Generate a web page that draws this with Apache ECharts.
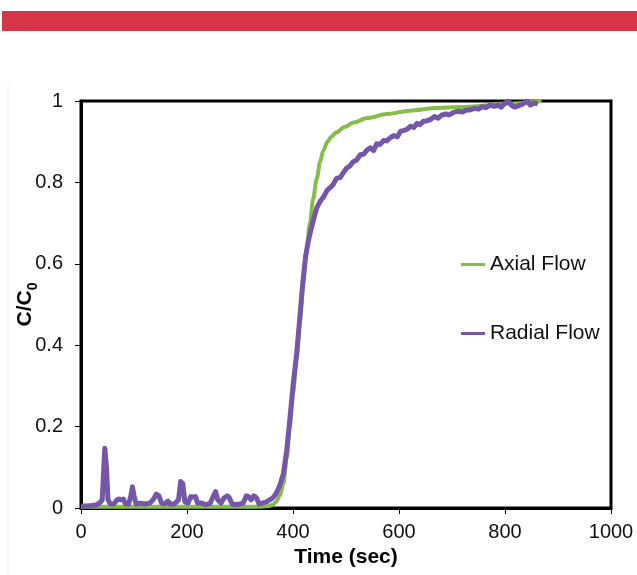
<!DOCTYPE html>
<html>
<head>
<meta charset="utf-8">
<script src="https://cdn.jsdelivr.net/npm/echarts@6/dist/echarts.min.js"></script>
<style>
  html, body { margin: 0; padding: 0; background: #fff; }
  #chart { width: 637px; height: 575px; }
</style>
</head>
<body>
<div id="chart"></div>
<script>
// axial flow (green) - time in sec, C/C0
var axialTime = [0, 100, 200, 300, 340, 355, 362, 368, 375, 382, 388, 394, 400, 407, 413, 419, 425, 432, 438, 445, 451, 457, 465, 472, 482, 497, 514, 540, 577, 620, 671, 734, 800, 869];
var axialValue = [0.003, 0.003, 0.003, 0.003, 0.003, 0.005, 0.008, 0.015, 0.03, 0.06, 0.12, 0.2, 0.28, 0.37, 0.46, 0.55, 0.63, 0.70, 0.76, 0.81, 0.85, 0.878, 0.9, 0.912, 0.923, 0.936, 0.947, 0.958, 0.968, 0.976, 0.983, 0.986, 0.993, 1.0];

// radial flow (purple)
var radialTime = [0, 10, 20, 30, 37, 40, 43, 45, 48, 51, 55, 62, 68, 72, 76, 80, 84, 90, 94, 97, 100, 104, 112, 120, 130, 136, 142, 147, 152, 158, 164, 168, 176, 184, 188, 192, 196, 202, 207, 211, 216, 220, 228, 236, 244, 250, 254, 258, 264, 270, 276, 280, 285, 292, 300, 306, 312, 316, 321, 326, 331, 336, 342, 350, 356, 362, 368, 375, 382, 388, 394, 400, 407, 413, 419, 424, 429, 435, 440, 445, 452, 458, 464, 470, 476, 482, 489, 495, 501, 507, 513, 520, 527, 533, 540, 546, 552, 558, 564, 571, 577, 584, 590, 597, 603, 608, 615, 622, 628, 634, 640, 646, 652, 660, 667, 674, 680, 688, 695, 703, 712, 720, 727, 734, 742, 750, 757, 764, 772, 780, 787, 793, 800, 806, 812, 818, 825, 833, 841, 848, 855, 862];
var radialValue = [0.005, 0.005, 0.006, 0.008, 0.015, 0.02, 0.10, 0.147, 0.10, 0.02, 0.01, 0.01, 0.02, 0.022, 0.02, 0.022, 0.01, 0.01, 0.03, 0.052, 0.03, 0.01, 0.012, 0.01, 0.012, 0.02, 0.034, 0.03, 0.012, 0.01, 0.017, 0.01, 0.01, 0.02, 0.065, 0.06, 0.015, 0.012, 0.028, 0.027, 0.028, 0.012, 0.012, 0.008, 0.012, 0.03, 0.04, 0.02, 0.012, 0.025, 0.03, 0.025, 0.01, 0.008, 0.01, 0.012, 0.03, 0.028, 0.02, 0.03, 0.025, 0.01, 0.012, 0.015, 0.02, 0.025, 0.035, 0.055, 0.085, 0.14, 0.217, 0.30, 0.38, 0.47, 0.56, 0.62, 0.656, 0.69, 0.715, 0.738, 0.755, 0.765, 0.78, 0.787, 0.795, 0.81, 0.812, 0.824, 0.835, 0.84, 0.85, 0.855, 0.868, 0.869, 0.88, 0.885, 0.878, 0.895, 0.893, 0.903, 0.902, 0.91, 0.915, 0.912, 0.926, 0.927, 0.93, 0.938, 0.935, 0.945, 0.942, 0.95, 0.951, 0.955, 0.962, 0.958, 0.965, 0.968, 0.966, 0.972, 0.975, 0.973, 0.978, 0.978, 0.982, 0.98, 0.986, 0.984, 0.99, 0.987, 0.99, 0.985, 0.995, 1.0, 0.99, 0.985, 0.988, 0.992, 1.0, 0.99, 0.995, 0.993];

var seriesNames = ['Axial Flow', 'Radial Flow'];

function zip(xs, ys) {
  return xs.map(function (x, i) { return [x, ys[i]]; });
}

var font = 'Arial, "Liberation Sans", sans-serif';
var chart = echarts.init(document.getElementById('chart'));
chart.setOption({
  animation: false,
  textStyle: { fontFamily: font },
  graphic: [
    { type: 'rect', shape: { x: 2, y: 11, width: 635, height: 20 }, style: { fill: '#D63448' } },
    { type: 'line', shape: { x1: 8, y1: 85, x2: 8, y2: 575 }, style: { stroke: '#ececec', lineWidth: 1 } }
  ],
  grid: {
    left: 81, right: 26, top: 101, bottom: 67,
    outerBoundsMode: 'none',
    containLabel: false,
    show: true, borderColor: '#000', borderWidth: 3
  },
  legend: {
    orient: 'vertical',
    left: 456,
    top: 249,
    itemGap: 48,
    icon: 'rect',
    itemWidth: 24,
    itemHeight: 3,
    textStyle: { fontSize: 21, color: '#111', fontFamily: font },
    data: seriesNames
  },
  xAxis: {
    type: 'value',
    min: 0, max: 1000, interval: 200,
    name: 'Time (sec)',
    nameLocation: 'middle',
    nameGap: 39,
    nameMoveOverlap: false,
    nameTextStyle: { fontSize: 21, fontWeight: 'bold', color: '#000', fontFamily: font },
    axisLine: { show: true, lineStyle: { color: '#000', width: 3 } },
    axisTick: { show: true, length: 6, lineStyle: { color: '#000', width: 1 } },
    axisLabel: { fontSize: 20, color: '#111', margin: 14, fontFamily: font, formatter: function (v) { return String(v); } },
    splitLine: { show: false }
  },
  yAxis: {
    type: 'value',
    min: 0, max: 1, interval: 0.2,
    name: 'C/C{sub|0}',
    nameLocation: 'middle',
    nameGap: 41,
    nameMoveOverlap: false,
    nameTextStyle: {
      fontSize: 21, fontWeight: 'bold', color: '#000', fontFamily: font,
      rich: { sub: { fontSize: 14, fontWeight: 'bold', color: '#000', verticalAlign: 'bottom', lineHeight: 30, fontFamily: font } }
    },
    axisLine: { show: true, lineStyle: { color: '#000', width: 3 } },
    axisTick: { show: true, length: 6, lineStyle: { color: '#000', width: 1 } },
    axisLabel: { fontSize: 20, color: '#111', margin: 18, fontFamily: font },
    splitLine: { show: false }
  },
  series: [
    {
      name: seriesNames[0],
      type: 'line',
      smooth: 0.3,
      smoothMonotone: 'x',
      symbol: 'none',
      data: zip(axialTime, axialValue),
      itemStyle: { color: '#86BC48' },
      lineStyle: { color: '#86BC48', width: 4 },
      z: 2
    },
    {
      name: seriesNames[1],
      type: 'line',
      symbol: 'none',
      data: zip(radialTime, radialValue),
      itemStyle: { color: '#7457A8' },
      lineStyle: { color: '#7457A8', width: 5, join: 'round' },
      z: 3
    }
  ]
});
</script>
</body>
</html>
